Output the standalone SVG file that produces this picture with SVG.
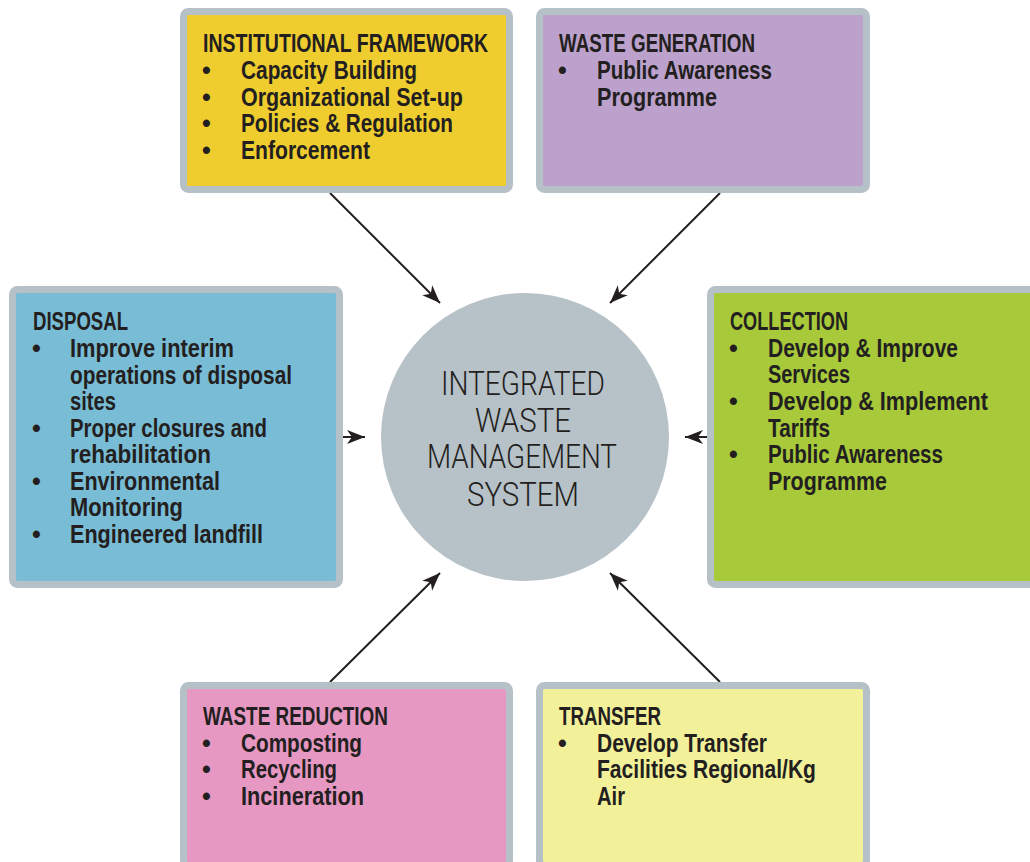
<svg xmlns="http://www.w3.org/2000/svg" width="1030" height="862" viewBox="0 0 1030 862">
<defs>
<style>
.box{stroke:#b6c0c7;stroke-width:7}
.t{font-family:"Liberation Sans Narrow","Liberation Sans",Arial,sans-serif;font-weight:bold;font-size:25px;fill:#231f20}
.c{font-family:Roboto,"DejaVu Sans",sans-serif;font-weight:300;font-size:33px;fill:#231f20;text-anchor:middle}
.ln{stroke:#231f20;stroke-width:2;fill:none;marker-end:url(#ah)}
</style>
<marker id="ah" markerUnits="userSpaceOnUse" viewBox="-18 -8 20 16" refX="0" refY="0" markerWidth="20" markerHeight="16" orient="auto">
<path d="M0,0 L-18,-7 L-13,0 L-18,7 Z" fill="#231f20"/>
</marker>
</defs>
<rect width="1030" height="862" fill="#ffffff"/>

<g id="connectors">
<line class="ln" x1="330" y1="193" x2="440" y2="303"/>
<line class="ln" x1="720" y1="193" x2="610" y2="303"/>
<line class="ln" x1="343" y1="437" x2="365" y2="437"/>
<line class="ln" x1="707" y1="437" x2="685" y2="437"/>
<line class="ln" x1="330" y1="682" x2="440" y2="573"/>
<line class="ln" x1="720" y1="682" x2="610" y2="573"/>
</g>

<g id="center">
<circle cx="525" cy="437" r="144" fill="#b7c1c8"/>
<text class="c" x="523" y="395" textLength="164" lengthAdjust="spacingAndGlyphs">INTEGRATED</text>
<text class="c" x="523" y="432" textLength="96" lengthAdjust="spacingAndGlyphs">WASTE</text>
<text class="c" x="522" y="468" textLength="190" lengthAdjust="spacingAndGlyphs">MANAGEMENT</text>
<text class="c" x="523" y="506" textLength="112" lengthAdjust="spacingAndGlyphs">SYSTEM</text>
</g>

<g id="institutional">
<rect class="box" x="183.5" y="11.5" width="326" height="178" rx="5" fill="#f0cd2e"/>
<text class="t" x="203" y="52" textLength="285" lengthAdjust="spacingAndGlyphs">INSTITUTIONAL FRAMEWORK</text>
<text class="t" x="202" y="79">•</text><text class="t" x="241" y="79" textLength="176" lengthAdjust="spacingAndGlyphs">Capacity Building</text>
<text class="t" x="202" y="106">•</text><text class="t" x="241" y="106" textLength="222" lengthAdjust="spacingAndGlyphs">Organizational Set-up</text>
<text class="t" x="202" y="132">•</text><text class="t" x="241" y="132" textLength="212" lengthAdjust="spacingAndGlyphs">Policies &amp; Regulation</text>
<text class="t" x="202" y="159">•</text><text class="t" x="241" y="159" textLength="129" lengthAdjust="spacingAndGlyphs">Enforcement</text>
</g>

<g id="generation">
<rect class="box" x="539.5" y="11.5" width="327" height="178" rx="5" fill="#bba1cb"/>
<text class="t" x="559" y="52" textLength="196" lengthAdjust="spacingAndGlyphs">WASTE GENERATION</text>
<text class="t" x="558" y="79">•</text><text class="t" x="597" y="79" textLength="175" lengthAdjust="spacingAndGlyphs">Public Awareness</text>
<text class="t" x="597" y="106" textLength="120" lengthAdjust="spacingAndGlyphs">Programme</text>
</g>

<g id="disposal">
<rect class="box" x="12.5" y="289.5" width="327" height="295" rx="5" fill="#79bcd6"/>
<text class="t" x="33" y="330" textLength="95" lengthAdjust="spacingAndGlyphs">DISPOSAL</text>
<text class="t" x="32" y="357">•</text><text class="t" x="70" y="357" textLength="164" lengthAdjust="spacingAndGlyphs">Improve interim</text>
<text class="t" x="70" y="384" textLength="222" lengthAdjust="spacingAndGlyphs">operations of disposal</text>
<text class="t" x="70" y="410" textLength="46" lengthAdjust="spacingAndGlyphs">sites</text>
<text class="t" x="32" y="437">•</text><text class="t" x="70" y="437" textLength="197" lengthAdjust="spacingAndGlyphs">Proper closures and</text>
<text class="t" x="70" y="463" textLength="141" lengthAdjust="spacingAndGlyphs">rehabilitation</text>
<text class="t" x="32" y="490">•</text><text class="t" x="70" y="490" textLength="150" lengthAdjust="spacingAndGlyphs">Environmental</text>
<text class="t" x="70" y="516" textLength="113" lengthAdjust="spacingAndGlyphs">Monitoring</text>
<text class="t" x="32" y="543">•</text><text class="t" x="70" y="543" textLength="193" lengthAdjust="spacingAndGlyphs">Engineered landfill</text>
</g>

<g id="collection">
<rect class="box" x="710.5" y="289.5" width="330" height="295" rx="5" fill="#a8c93a"/>
<text class="t" x="730" y="330" textLength="118" lengthAdjust="spacingAndGlyphs">COLLECTION</text>
<text class="t" x="729" y="357">•</text><text class="t" x="768" y="357" textLength="190" lengthAdjust="spacingAndGlyphs">Develop &amp; Improve</text>
<text class="t" x="768" y="383" textLength="82" lengthAdjust="spacingAndGlyphs">Services</text>
<text class="t" x="729" y="410">•</text><text class="t" x="768" y="410" textLength="220" lengthAdjust="spacingAndGlyphs">Develop &amp; Implement</text>
<text class="t" x="768" y="437" textLength="62" lengthAdjust="spacingAndGlyphs">Tariffs</text>
<text class="t" x="729" y="463">•</text><text class="t" x="768" y="463" textLength="175" lengthAdjust="spacingAndGlyphs">Public Awareness</text>
<text class="t" x="768" y="490" textLength="119" lengthAdjust="spacingAndGlyphs">Programme</text>
</g>

<g id="reduction">
<rect class="box" x="183.5" y="685.5" width="326" height="180" rx="5" fill="#e698c2"/>
<text class="t" x="203" y="725" textLength="185" lengthAdjust="spacingAndGlyphs">WASTE REDUCTION</text>
<text class="t" x="202" y="752">•</text><text class="t" x="241" y="752" textLength="121" lengthAdjust="spacingAndGlyphs">Composting</text>
<text class="t" x="202" y="778">•</text><text class="t" x="241" y="778" textLength="96" lengthAdjust="spacingAndGlyphs">Recycling</text>
<text class="t" x="202" y="805">•</text><text class="t" x="241" y="805" textLength="123" lengthAdjust="spacingAndGlyphs">Incineration</text>
</g>

<g id="transfer">
<rect class="box" x="539.5" y="685.5" width="327" height="180" rx="5" fill="#f3f09a"/>
<text class="t" x="559" y="725" textLength="102" lengthAdjust="spacingAndGlyphs">TRANSFER</text>
<text class="t" x="558" y="752">•</text><text class="t" x="597" y="752" textLength="170" lengthAdjust="spacingAndGlyphs">Develop Transfer</text>
<text class="t" x="597" y="778" textLength="219" lengthAdjust="spacingAndGlyphs">Facilities Regional/Kg</text>
<text class="t" x="597" y="805" textLength="28" lengthAdjust="spacingAndGlyphs">Air</text>
</g>
</svg>
